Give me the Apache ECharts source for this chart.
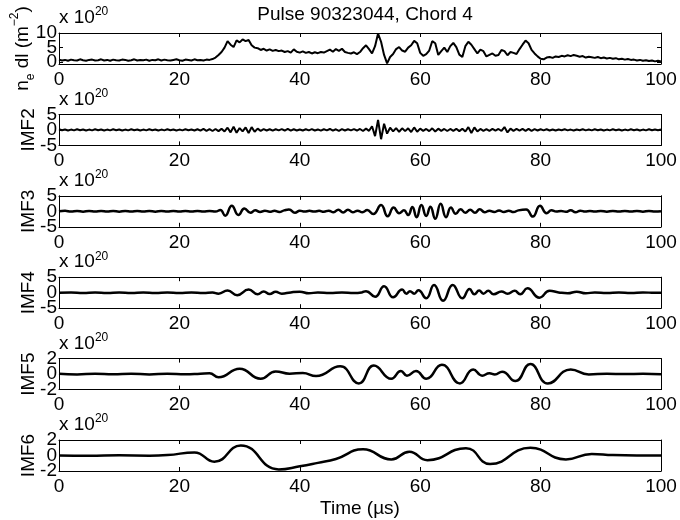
<!DOCTYPE html>
<html><head><meta charset="utf-8">
<script src="https://cdn.jsdelivr.net/npm/echarts@6/dist/echarts.min.js"></script>
<style>html,body{margin:0;padding:0;background:#fff}#c{width:680px;height:520px}</style>
</head><body><div id="c"></div>
<script>
// ---------- DATA ----------
const timeStep = 0.5; // sampling step (µs) for the two noisy panels
// line-integrated density (x 1e20 m^-2), t = 0..100 step 0.5
const densityValues = [
  0.9,0.6,0.8,0.5,0.9,0.7,0.6,1.0,0.7,0.5,0.8,0.9,0.6,0.7,1.0,0.6,0.8,0.5,0.9,0.7,
  0.6,0.9,0.8,0.5,0.7,1.0,0.6,0.8,0.7,0.9,0.5,0.8,0.7,1.0,0.6,0.9,0.7,0.6,0.8,1.0,
  0.7,0.5,0.9,0.8,0.6,1.0,0.7,0.8,0.6,0.9,0.8,1.1,1.6,2.5,3.5,5.0,7.2,6.0,5.2,7.5,
  6.8,7.8,7.2,7.6,5.8,5.0,4.8,4.2,4.6,4.0,4.4,3.9,4.2,3.8,4.0,3.5,3.8,3.3,4.4,3.6,
  3.3,3.7,3.2,3.5,3.0,3.4,3.1,3.5,3.3,3.8,4.3,3.6,4.5,3.9,4.6,3.5,3.2,3.0,3.4,2.8,
  3.5,4.8,5.8,4.5,3.0,5.5,9.8,7.0,2.5,-0.4,1.8,2.8,4.5,5.2,4.0,3.6,5.0,5.8,7.3,6.5,
  3.2,2.2,2.8,4.0,7.2,6.5,2.5,3.8,5.0,3.5,5.5,6.6,5.2,2.6,1.8,5.5,7.0,6.0,4.5,3.0,
  4.3,3.8,2.0,2.5,3.0,2.2,2.5,4.2,3.8,2.4,3.5,3.2,2.8,4.5,6.0,7.4,6.5,4.2,3.0,2.0,
  1.2,1.0,1.6,1.8,1.5,2.0,1.8,2.2,2.0,2.4,2.1,2.5,2.2,1.9,2.1,1.6,1.9,1.7,1.5,1.8,
  1.4,1.6,1.3,1.5,1.2,1.4,1.0,1.2,0.9,1.1,0.8,0.9,0.6,0.8,0.5,0.7,0.4,0.6,0.3,0.5,
  0.3
];
// IMF2, t = 0..100 step 0.5
const imf2Values = [
  0.2,-0.1,0.15,-0.2,0.1,-0.15,0.2,-0.1,0.15,-0.2,0.1,-0.15,0.2,-0.1,0.15,-0.2,0.1,-0.15,0.2,-0.1,
  0.15,-0.2,0.1,-0.15,0.2,-0.1,0.15,-0.2,0.1,-0.15,0.2,-0.1,0.15,-0.2,0.1,-0.15,0.2,-0.1,0.15,-0.2,
  0.1,-0.15,0.2,-0.1,0.15,-0.2,0.2,-0.25,0.3,-0.3,0.25,-0.35,0.3,-0.4,0.4,-0.5,0.7,-0.8,1.0,-0.9,
  0.6,-0.5,0.8,-1.0,0.9,-0.6,0.4,-0.3,0.25,-0.2,0.2,-0.25,0.2,-0.15,0.25,-0.2,0.3,-0.25,0.2,-0.2,
  0.15,-0.2,0.2,-0.15,0.25,-0.2,0.15,-0.25,0.2,-0.15,0.3,-0.25,0.2,-0.3,0.25,-0.2,0.2,-0.15,0.25,-0.2,
  0.3,-0.35,0.4,-0.3,1.2,-2.0,3.2,-3.0,2.0,-1.2,0.7,-0.5,0.6,-0.6,0.5,-0.4,0.5,-0.7,0.8,-0.6,
  0.4,-0.3,0.3,-0.4,0.5,-0.5,0.4,-0.3,0.3,-0.35,0.3,-0.3,0.35,-0.4,0.4,-0.5,0.9,-1.0,0.8,-0.5,
  0.3,-0.3,0.25,-0.3,0.3,-0.25,0.3,-0.35,0.9,-0.8,0.4,-0.3,0.3,-0.25,0.3,-0.3,0.35,-0.3,0.25,-0.2,
  0.2,-0.15,0.2,-0.2,0.15,-0.2,0.15,-0.1,0.2,-0.15,0.1,-0.2,0.15,-0.1,0.2,-0.15,0.1,-0.15,0.2,-0.1,
  0.15,-0.2,0.1,-0.15,0.2,-0.1,0.15,-0.2,0.1,-0.15,0.2,-0.1,0.15,-0.2,0.1,-0.15,0.2,-0.1,0.15,-0.1,
  0.1
];
// IMF3..IMF6 as [time, value] points read at turning points
const imf3Points = [
  [0,0],[1,0.15],[2,-0.1],[3,0.12],[4,-0.12],[5,0.1],[6,-0.1],[7,0.12],[8,-0.1],[9,0.1],[10,-0.12],
  [11,0.1],[12,-0.1],[13,0.12],[14,-0.1],[15,0.1],[16,-0.12],[17,0.1],[18,-0.1],[19,0.12],[20,-0.1],
  [21,0.1],[22,-0.1],[23,0.12],[24,-0.1],[25,0.1],[26,-0.1],[26.8,0.4],[27.6,-1.4],[28.7,1.8],
  [29.8,-1.2],[30.8,0.9],[31.8,-0.5],[32.6,0.3],[33.4,-0.2],[34.2,0.2],[35,-0.15],[35.8,0.15],
  [36.6,-0.2],[37.4,0.3],[38.2,0.6],[39.2,-0.5],[40,0.2],[40.8,-0.1],[41.6,0.15],[42.4,-0.1],
  [43.2,0.15],[44,-0.15],[44.8,0.2],[45.6,-0.3],[46.4,0.5],[47.2,-0.4],[48,0.5],[48.8,-0.3],
  [49.6,0.2],[50.4,-0.3],[51.2,0.4],[52.2,-0.9],[53.5,2.0],[54.6,-1.6],[55.6,1.2],[56.5,-0.6],
  [57.3,0.3],[58,-1.2],[58.7,1.4],[59.4,-1.9],[60.2,2.0],[61,-1.5],[61.7,1.5],[62.5,-2.4],
  [63.4,2.4],[64.3,-1.9],[65.1,1.2],[65.9,-0.8],[66.7,0.7],[67.5,-0.5],[68.3,0.5],[69.1,-0.5],
  [69.9,0.7],[70.7,-0.3],[71.5,0.2],[72.3,-0.2],[73.1,0.25],[73.9,-0.2],[74.7,0.2],[75.5,-0.25],
  [76.3,0.3],[77.6,0.6],[78.7,-1.7],[79.9,1.8],[81,-0.6],[81.8,0.3],[82.6,-0.1],[83.4,0.1],
  [84.2,-0.15],[85,0.3],[85.8,-0.3],[86.6,0.2],[87.4,-0.1],[88.2,0.1],[89,-0.1],[90,0.1],
  [91,-0.12],[92,0.1],[93,-0.1],[94,0.12],[95,-0.1],[96,0.1],[97,-0.12],[98,0.1],[99,-0.1],[100,0.05]
];
const imf4Points = [
  [0,0],[2,0.1],[4,-0.1],[6,0.1],[8,-0.1],[10,0.1],[12,-0.1],[14,0.1],[16,-0.1],[18,0.1],[20,-0.1],
  [22,0.1],[24,-0.1],[25.5,0.05],[26.5,-0.3],[28,0.7],[29.6,-0.8],[31.5,1.0],[33,-0.5],[34,0.4],
  [35,-0.4],[36,0.3],[37,-0.3],[38.5,0.1],[40,0.3],[41.5,-0.2],[43,0.1],[45,-0.1],[47,0.1],
  [49,-0.1],[50.3,0.1],[51,0.5],[52.5,-1.3],[54,2.1],[55.5,-1.5],[57,1.0],[57.7,-0.3],[58.3,0.5],
  [59,-0.3],[59.7,0.8],[61,-1.8],[62.3,2.5],[63.8,-2.6],[65.4,2.5],[67,-1.8],[68.2,1.2],[69,-0.5],
  [69.8,0.7],[70.5,-0.3],[71.3,0.6],[72.2,-0.5],[73.5,0.4],[74.5,-0.3],[75.7,0.6],[76.6,-0.5],
  [77.8,1.4],[79.8,-1.6],[81.5,0.6],[83,0.1],[84.5,-0.2],[86,0.3],[87.5,-0.2],[89,0.1],[91,-0.1],
  [93,0.1],[95,-0.1],[97,0.1],[99,-0.05],[100,0]
];
const imf5Points = [
  [0,0.05],[3,-0.05],[6,0.05],[9,-0.03],[12,0.05],[15,-0.05],[18,0.05],[21,-0.03],[23.5,0.05],
  [25,0.1],[26.5,-0.4],[30,0.7],[33.5,-0.6],[36,0.35],[38.3,0.05],[40.5,0.15],[42.7,-0.25],
  [46.7,1.0],[49.8,-1.2],[52.3,1.1],[55.2,-0.6],[56.8,0.4],[57.8,-0.2],[59.3,0.4],[61,-0.6],
  [63.6,1.2],[66.6,-1.2],[68.8,0.6],[70.3,-0.2],[71.5,0.1],[72.4,-0.05],[73.6,0.3],[75.8,-0.9],
  [78.3,1.3],[81.2,-1.2],[85,0.6],[88,-0.05],[91,0.05],[94,0],[97,0.05],[100,-0.02]
];
const imf6Points = [
  [0,0],[5,-0.03],[10,0.02],[15,-0.02],[18,0.05],[22.5,0.4],[25.8,-0.8],[30.2,1.3],[36.5,-1.8],
  [40,-1.4],[43,-0.95],[46,-0.45],[50.5,0.8],[55.2,-0.5],[58.2,0.5],[61.2,-0.6],[67.6,0.95],
  [71.6,-1.1],[78.3,1.0],[84.2,-0.5],[88.5,0.2],[92,0.05],[96,0],[100,0]
];
const panelNames = ['n{sub|e} dl (m{sup|−2})','IMF2','IMF3','IMF4','IMF5','IMF6'];
const yMins = [-0.6,-5,-5,-5,-2,-2];
const yMaxs = [10,5,5,5,2,2];
const yTickValues = [[0,5,10],[-5,0,5],[-5,0,5],[-5,0,5],[-2,0,2],[-2,0,2]];
const xTickValues = [0,20,40,60,80,100];
const titleText = 'Pulse 90323044, Chord 4';
const xAxisName = 'Time (µs)';
const scaleLabel = 'x 10{sup|20}';

// ---------- CHART ----------
const toPairs = vals => vals.map((v, i) => [i * timeStep, v]);
const seriesData = [toPairs(densityValues), toPairs(imf2Values), imf3Points, imf4Points, imf5Points, imf6Points];

const FONT = "'Liberation Sans', Arial, Helvetica, sans-serif";
const FS = 19;
const LEFT = 59, RIGHT = 19, TOP0 = 33, STEP = 81.4, H = 31;

const grids = [], xAxes = [], yAxes = [], series = [];
for (let i = 0; i < 6; i++) {
  grids.push({ left: LEFT, right: RIGHT, top: TOP0 + STEP * i, height: H, containLabel: false, outerBoundsMode: 'none' });
  const tickCommon = { show: true, inside: true, length: 4, lineStyle: { color: '#000', width: 1 } };
  const ticks = yTickValues[i];
  const labelStyle = { color: '#000', fontFamily: FONT, fontSize: FS, margin: 2,
    showMinLabel: true, showMaxLabel: true, hideOverlap: false };
  xAxes.push({
    gridIndex: i, type: 'value', min: 0, max: 100, position: 'bottom',
    axisLine: { show: true, onZero: false, lineStyle: { color: '#000', width: 1 } },
    axisTick: Object.assign({}, tickCommon, { customValues: xTickValues }), splitLine: { show: false },
    axisLabel: { color: '#000', fontFamily: FONT, fontSize: FS, margin: 6, customValues: xTickValues,
      showMinLabel: true, showMaxLabel: true, hideOverlap: false },
    name: i === 5 ? xAxisName : '', nameLocation: 'middle', nameGap: 28, nameMoveOverlap: false,
    nameTextStyle: { color: '#000', fontFamily: FONT, fontSize: FS }
  });
  xAxes.push({
    gridIndex: i, type: 'value', min: 0, max: 100, position: 'top',
    axisLine: { show: true, onZero: false, lineStyle: { color: '#000', width: 1 } },
    axisTick: Object.assign({}, tickCommon, { customValues: xTickValues }),
    axisLabel: { show: false }, splitLine: { show: false }
  });
  const rich = {
    sup: { fontSize: 12, fontFamily: FONT, color: '#000', verticalAlign: 'top', lineHeight: 28 },
    sub: { fontSize: 12, fontFamily: FONT, color: '#000', verticalAlign: 'bottom', lineHeight: 28 }
  };
  // main left axis: line, ticks, outer tick labels, panel name
  yAxes.push({
    gridIndex: i, type: 'value', min: yMins[i], max: yMaxs[i], position: 'left',
    axisLine: { show: true, onZero: false, lineStyle: { color: '#000', width: 1 } },
    axisTick: Object.assign({}, tickCommon, { customValues: ticks }),
    splitLine: { show: false },
    axisLabel: Object.assign({}, labelStyle, { customValues: [ticks[0], ticks[2]] }),
    name: panelNames[i], nameLocation: 'middle', nameRotate: 90, nameGap: i === 0 ? 36 : 21,
    nameMoveOverlap: false,
    nameTextStyle: i === 0
      ? { color: '#000', fontFamily: FONT, fontSize: FS, lineHeight: 28, verticalAlign: 'middle', rich }
      : { color: '#000', fontFamily: FONT, fontSize: FS, lineHeight: 19 }
  });
  // right axis: box edge + ticks
  yAxes.push({
    gridIndex: i, type: 'value', min: yMins[i], max: yMaxs[i], position: 'right',
    axisLine: { show: true, onZero: false, lineStyle: { color: '#000', width: 1 } },
    axisTick: Object.assign({}, tickCommon, { customValues: ticks }),
    axisLabel: { show: false }, splitLine: { show: false }
  });
  // helper left axis: middle tick label + exponent label
  yAxes.push({
    gridIndex: i, type: 'value', min: yMins[i], max: yMaxs[i], position: 'left',
    axisLine: { show: false }, axisTick: { show: false }, splitLine: { show: false },
    axisLabel: Object.assign({}, labelStyle, { customValues: [ticks[1]] }),
    name: scaleLabel, nameLocation: 'end', nameGap: 3, nameMoveOverlap: false,
    nameTextStyle: { color: '#000', fontFamily: FONT, fontSize: FS, align: 'left', verticalAlign: 'bottom',
      lineHeight: 24, rich: { sup: { fontSize: 12, fontFamily: FONT, color: '#000', verticalAlign: 'top', lineHeight: 24 } } }
  });
  series.push({
    type: 'line', xAxisIndex: i * 2, yAxisIndex: i * 3, data: seriesData[i],
    showSymbol: false, smooth: i >= 2 ? 0.5 : false,
    lineStyle: { color: '#000', width: i < 2 ? 2 : 2.5 }, z: 3
  });
}

const chart = echarts.init(document.getElementById('c'), null, { renderer: 'canvas' });
chart.setOption({
  animation: false,
  backgroundColor: '#fff',
  title: { text: titleText, left: LEFT + (680 - LEFT - RIGHT) / 2, textAlign: 'center', top: 0,
    textStyle: { color: '#000', fontFamily: FONT, fontSize: FS, fontWeight: 'normal' } },
  grid: grids, xAxis: xAxes, yAxis: yAxes, series
});
</script>
</body></html>
